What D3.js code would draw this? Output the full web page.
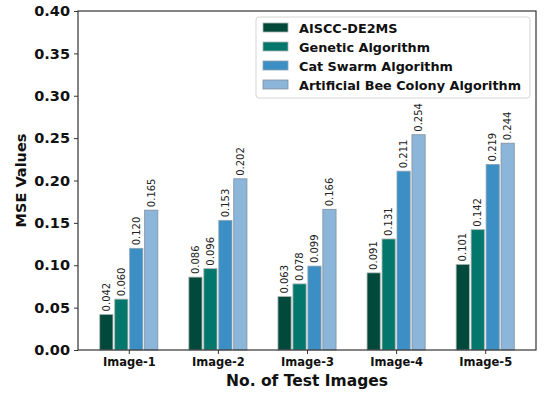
<!DOCTYPE html>
<html><head><meta charset="utf-8">
<script src="https://cdn.jsdelivr.net/npm/d3@7"></script>
<style>body{margin:0;background:#fff;} svg{display:block;font-family:"DejaVu Sans",sans-serif;}</style>
</head><body><svg id="c" width="550" height="397"></svg>
<script>
const categories = ["Image-1","Image-2","Image-3","Image-4","Image-5"];
const seriesNames = ["AISCC-DE2MS","Genetic Algorithm","Cat Swarm Algorithm","Artificial Bee Colony Algorithm"];
const aiscc = [0.042,0.086,0.063,0.091,0.101];
const genetic = [0.060,0.096,0.078,0.131,0.142];
const catSwarm = [0.120,0.153,0.099,0.211,0.219];
const beeColony = [0.165,0.202,0.166,0.254,0.244];
const yTicks = [0,0.05,0.10,0.15,0.20,0.25,0.30,0.35,0.40];
const colors = ["#01493b","#04776c","#3b8fc4","#8cb5da"];
const edges = ["#aab5b0","#aab5b0","#8fa3b3","#7f8e9c"];
const series = [aiscc, genetic, catSwarm, beeColony];

const svg = d3.select("#c");
const L=78, R=536, T=11, B=350;
const x = d3.scaleLinear().domain([-0.57,4.57]).range([L,R]);
const y = d3.scaleLinear().domain([0,0.40]).range([B,T]);
const step = 0.168, bw = 0.148;

const g = svg.append("g");
series.forEach((vals,si)=>{
  vals.forEach((v,ci)=>{
    const cx = ci + (si-1.5)*step;
    const x0 = x(cx-bw/2), x1 = x(cx+bw/2);
    g.append("rect").attr("x",x0).attr("y",y(v)).attr("width",x1-x0).attr("height",y(0)-y(v))
      .attr("fill",colors[si]).attr("stroke",edges[si]).attr("stroke-width",0.8);
    const tx = x(cx), ty = y(v)-3;
    g.append("text").attr("transform",`translate(${tx+3.5},${ty}) rotate(-90)`)
      .attr("font-size",10).attr("fill","#222").text(v.toFixed(3));
  });
});

// frame
svg.append("rect").attr("x",L).attr("y",T).attr("width",R-L).attr("height",B-T)
  .attr("fill","none").attr("stroke","#333").attr("stroke-width",1.2);

// y axis
const ya = svg.append("g").attr("transform",`translate(${L},0)`)
  .call(d3.axisLeft(y).tickValues(yTicks).tickFormat(d3.format(".2f")).tickSize(4).tickPadding(4));
ya.select(".domain").remove();
ya.selectAll("line").attr("stroke","#333");
ya.selectAll("text").attr("font-size",14.5).attr("font-weight","bold").attr("fill","#111").attr("font-family","DejaVu Sans");

// x axis
const xa = svg.append("g").attr("transform",`translate(0,${B})`)
  .call(d3.axisBottom(x).tickValues(d3.range(categories.length)).tickFormat(i=>categories[i]).tickSize(4).tickPadding(4));
xa.select(".domain").remove();
xa.selectAll("line").attr("stroke","#333");
xa.selectAll("text").attr("font-size",11.5).attr("font-weight","bold").attr("fill","#111").attr("font-family","DejaVu Sans");

svg.append("text").attr("x",(L+R)/2).attr("y",386).attr("text-anchor","middle")
  .attr("font-size",15.5).attr("font-weight","bold").attr("fill","#111").text("No. of Test Images");
svg.append("text").attr("transform",`translate(25.5,${(T+B)/2}) rotate(-90)`).attr("text-anchor","middle")
  .attr("font-size",14.5).attr("font-weight","bold").attr("fill","#111").text("MSE Values");

// legend
const lg = svg.append("g");
lg.append("rect").attr("x",256).attr("y",17).attr("width",274).attr("height",81).attr("rx",3)
  .attr("fill","#fff").attr("fill-opacity",0.85).attr("stroke","#d5d5d5");
seriesNames.forEach((n,i)=>{
  const yy = 28 + i*19;
  lg.append("rect").attr("x",263).attr("y",yy-5).attr("width",25).attr("height",9)
    .attr("fill",colors[i]).attr("stroke",edges[i]).attr("stroke-width",0.8);
  lg.append("text").attr("x",299).attr("y",yy+4.5).attr("font-size",12.8).attr("font-weight","bold")
    .attr("fill","#111").text(n);
});
</script></body></html>
